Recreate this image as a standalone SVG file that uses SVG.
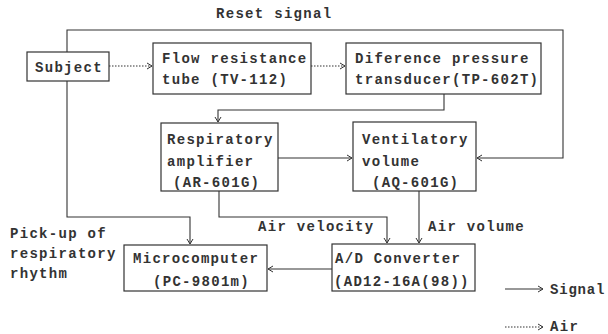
<svg xmlns="http://www.w3.org/2000/svg" width="608" height="334" viewBox="0 0 608 334">
<style>
  .box{fill:none;stroke:#333;stroke-width:1.2}
  .ln{fill:none;stroke:#333;stroke-width:1.1}
  .dot{fill:none;stroke:#333;stroke-width:1.1;stroke-dasharray:1.5 1.5}
  text{font-family:"Liberation Mono","DejaVu Sans Mono",monospace;font-size:14px;font-weight:bold;letter-spacing:1.3px;fill:#333}
</style>
<defs>
  <marker id="ah" markerUnits="userSpaceOnUse" markerWidth="8" markerHeight="8" refX="6" refY="4" orient="auto">
    <path d="M1,1 L6,4 L1,7" fill="none" stroke="#333" stroke-width="1"/>
  </marker>
</defs>
<rect width="608" height="334" fill="#fff"/>
<g id="connectors">
  <path class="ln" d="M67,52 V30 H563 V158 H477" marker-end="url(#ah)"/>
  <path class="ln" d="M67,81 V217 H190 V244" marker-end="url(#ah)"/>
  <path class="dot" d="M109,66 H152" marker-end="url(#ah)"/>
  <path class="dot" d="M311,66 H345" marker-end="url(#ah)"/>
  <path class="ln" d="M444,94 V110 H218 V122" marker-end="url(#ah)"/>
  <path class="ln" d="M278,158 H352" marker-end="url(#ah)"/>
  <path class="ln" d="M219,191 V217 H387 V243" marker-end="url(#ah)"/>
  <path class="ln" d="M419,191 V243" marker-end="url(#ah)"/>
  <path class="ln" d="M332,269 H268" marker-end="url(#ah)"/>
  <text x="216" y="18">Reset signal</text>
  <text x="258" y="231">Air velocity</text>
  <text x="428" y="231">Air volume</text>
  <text x="10" y="238">Pick-up of</text>
  <text x="10" y="258">respiratory</text>
  <text x="10" y="278">rhythm</text>
</g>
<g id="subject">
  <rect class="box" x="27" y="52" width="82" height="29"/>
  <text x="35" y="72">Subject</text>
</g>
<g id="flow-tube">
  <rect class="box" x="153" y="43" width="158" height="51"/>
  <text x="162" y="63">Flow resistance</text>
  <text x="162" y="84">tube  (TV-112)</text>
</g>
<g id="transducer">
  <rect class="box" x="346" y="43" width="195" height="51"/>
  <text x="355" y="63">Diference pressure</text>
  <text x="355" y="84">transducer(TP-602T)</text>
</g>
<g id="resp-amp">
  <rect class="box" x="161" y="123" width="117" height="68"/>
  <text x="167" y="144">Respiratory</text>
  <text x="167" y="166">amplifier</text>
  <text x="173" y="187">(AR-601G)</text>
</g>
<g id="vent-vol">
  <rect class="box" x="353" y="122" width="123" height="69"/>
  <text x="362" y="144">Ventilatory</text>
  <text x="362" y="166">volume</text>
  <text x="372" y="187">(AQ-601G)</text>
</g>
<g id="microcomputer">
  <rect class="box" x="124" y="245" width="143" height="46"/>
  <text x="133" y="263">Microcomputer</text>
  <text x="153" y="286">(PC-9801m)</text>
</g>
<g id="ad-converter">
  <rect class="box" x="332" y="244" width="143" height="47"/>
  <text x="335" y="263">A/D Converter</text>
  <text x="334" y="286">(AD12-16A(98))</text>
</g>
<g id="legend">
  <path class="ln" d="M505,289 H543" marker-end="url(#ah)"/>
  <text x="550" y="294" style="letter-spacing:0.8px">Signal</text>
  <path class="dot" d="M505,327 H543" marker-end="url(#ah)"/>
  <text x="550" y="331">Air</text>
</g>
</svg>
